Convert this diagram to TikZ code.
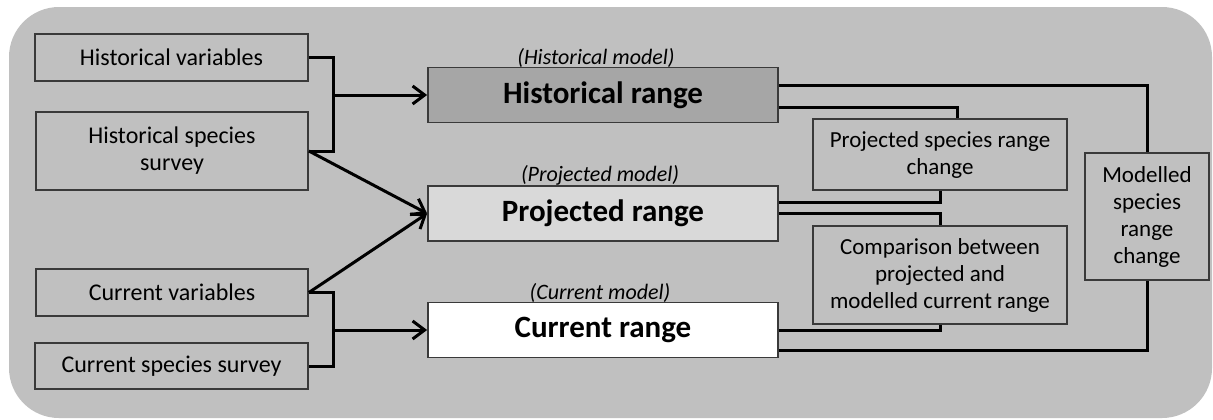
\documentclass[tikz,border=0pt]{standalone}
\usepackage{fontspec}
\setmainfont{Carlito}
\definecolor{panelgray}{HTML}{C0C0C0}
\definecolor{histfill}{HTML}{A6A6A6}
\definecolor{projfill}{HTML}{D9D9D9}
\definecolor{edgegray}{HTML}{3A3A3A}
\usepackage{tikz}
\usetikzlibrary{arrows.meta, positioning, calc}
\tikzset{
  box/.style={
    draw=edgegray, line width=0.9pt, fill=#1,
    font=\fontsize{12}{13.5}\selectfont,
    text=black, align=center, inner sep=2pt
  },
  box/.default=panelgray,
  sbox/.style={box, font=\fontsize{11.5}{13.5}\selectfont},
  rbox/.style={
    box=#1, font=\fontsize{15.5}{18}\selectfont\bfseries,
    minimum width=175pt, minimum height=27.5pt
  },
  rbox/.default=white,
  arr/.style={-{Straight Barb[length=6pt,width=9pt]}, line width=1.5pt},
  link/.style={line width=1.5pt},
  lbl/.style={font=\fontsize{11}{13}\selectfont\itshape, inner sep=1pt},
}

\begin{document}
\begin{tikzpicture}[x=0.5pt, y=-0.5pt]
    \useasboundingbox (0,0) rectangle (1213,419);
    \fill[panelgray, rounded corners=25pt] (9,7) rectangle (1212,418);

    \node[box, minimum width=136.5pt, minimum height=23.5pt] (hvar) at (171.5,57.5) {Historical variables};
    \node[box, minimum width=136pt, minimum height=39pt] (hsurv) at (172,151) {Historical species\\survey};
    \node[box, minimum width=136pt, minimum height=23.5pt] (cvar) at (172,292.5) {Current variables};
    \node[box, minimum width=136.5pt, minimum height=23pt] (csurv) at (171.5,366) {Current species survey};

    \node[rbox=histfill] (hrange) at (603,95) {Historical range};
    \node[rbox=projfill] (prange) at (603,213.5) {Projected range};
    \node[rbox] (crange) at (603,330) {Current range};

    \node[lbl, above=-1.5pt of hrange, xshift=-3.5pt] (hmodel) {(Historical model)};
    \node[lbl, above=-1.5pt of prange, xshift=-1.5pt] (pmodel) {(Projected model)};
    \node[lbl, above=-1.5pt of crange, xshift=-1.5pt] (cmodel) {(Current model)};

    \node[sbox, minimum width=127pt, minimum height=35.5pt] (pchange) at (940,154.5) {Projected species range\\change};
    \node[sbox, minimum width=127pt, minimum height=49pt] (compare) at (940,275) {Comparison between\\projected and\\modelled current range};
    \node[sbox, minimum width=62pt, minimum height=63.5pt] (modelled) at (1147,216.5) {Modelled\\species\\range\\change};

    \coordinate (hjoin) at (333,95);
    \coordinate (cjoin) at (333,330);
    \draw[link] (hvar.east) -- ++(25,0) |- (hsurv.east);
    \draw[link] (cvar.east) -- ++(25,0) |- (csurv.east);
    \draw[arr] (hjoin) -- (hrange.west);
    \draw[arr] (hsurv.east) -- (prange.west);
    \draw[arr] (cvar.east) -- (prange.west);
    \draw[arr] (cjoin) -- (crange.west);

    \draw[link] ([yshift=5pt]hrange.east) -| (modelled.north);
    \draw[link] ([yshift=-6pt]hrange.east) -| ([xshift=8.5pt]pchange.north);
    \draw[link] (pchange.south) |- ([yshift=5.5pt]prange.east);
    \draw[link] (prange.east) -| (compare.north);
    \draw[link] (compare.south) |- (crange.east);
    \draw[link] (modelled.south) |- ([yshift=-10pt]crange.east);
  \end{tikzpicture}
\end{document}
